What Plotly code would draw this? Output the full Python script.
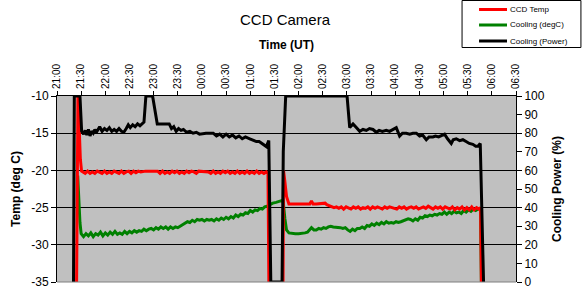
import plotly.graph_objects as go

# ---- data (minutes after 21:00 UT) ----
tick_vals = [0, 30, 60, 90, 120, 150, 180, 210, 240, 270, 300, 330, 360, 390, 420, 450, 480, 510, 540, 570]
tick_text = ["21:00", "21:30", "22:00", "22:30", "23:00", "23:30", "00:00", "00:30", "01:00", "01:30",
             "02:00", "02:30", "03:00", "03:30", "04:00", "04:30", "05:00", "05:30", "06:00", "06:30"]

temp_ticks = [-35, -30, -25, -20, -15, -10]
temp_ticktext = ["-35", "-30", "-25", "-20", "-15", "-10"]
power_ticks = [0, 10, 20, 30, 40, 50, 60, 70, 80, 90, 100]

series_names = ["CCD Temp", "Cooling (degC)", "Cooling (Power)"]
series_colors = ["#FF0000", "#008000", "#000000"]

ccd_t = [24, 26, 27.5, 29, 30.5,
         32, 35, 38, 41, 44, 47, 50, 53, 56, 59, 62, 65, 68, 71, 74, 77, 80, 83, 86, 89, 92, 95, 98,
         101, 104, 107, 110, 113, 116, 119, 122, 125, 128, 131, 134, 137, 140, 143, 146, 149, 152,
         155, 158, 161, 164, 167, 170, 173, 176, 179, 182, 185, 188, 191, 194, 197, 200, 203, 206,
         209, 212, 215, 218, 221, 224, 227, 230, 233, 236, 239, 242, 245, 248, 251, 254, 257, 260, 262,
         263.5, 280.5, 281.3, 283, 285, 288, 292, 296, 300, 304, 308, 312, 314, 316, 318, 322, 326,
         330, 333, 335, 337, 341, 344,
         347, 350, 353, 356, 359, 362, 365, 368, 371, 374, 377, 380, 383, 386, 389, 392, 395, 398,
         401, 404, 407, 410, 413, 416, 419, 422, 425, 428, 431, 434, 437, 440, 443, 446, 449, 452,
         455, 458, 461, 464, 467, 470, 473, 476, 479, 482, 485, 488, 491, 494, 497, 500, 503, 506,
         509, 512, 515, 518, 521, 524, 526, 527.5]
ccd_v = [-40, -10, -14, -18.5, -20.1,
         -20.2, -20.4, -20.1, -20.4, -20.2, -20.4, -20.1, -20.3, -20.4, -20.1, -20.4, -20.2, -20.4,
         -20.1, -20.3, -20.4, -20.1, -20.4, -20.2, -20.1, -20.4, -20.1, -20.3,
         -20.1, -20.2, -20.1, -20.1, -20.1, -20.1, -20.1, -20.2, -20.1, -20.4, -20.1, -20.4, -20.2,
         -20.4, -20.1, -20.3, -20.1, -20.4,
         -20.2, -20.4, -20.1, -20.3, -20.1, -20.2, -20.4, -20.1, -20.1, -20.1, -20.1, -20.2, -20.4,
         -20.1, -20.4, -20.2, -20.4, -20.1,
         -20.3, -20.1, -20.4, -20.2, -20.4, -20.1, -20.4, -20.2, -20.4, -20.1, -20.4, -20.2, -20.4,
         -20.1, -20.4, -20.2, -20.4, -20.2, -20.4,
         -40, -40, -20.0, -21.5, -23.5, -24.5, -24.5, -24.5, -24.5, -24.5, -24.5, -24.5, -24.5,
         -24.1, -24.5, -24.5, -24.5,
         -24.5, -24.4, -24.6, -24.7, -24.8, -25.0,
         -24.9, -25.1, -24.9, -25.2, -24.9, -25.0, -25.2, -24.9, -25.1, -24.9, -25.2, -25.0, -25.1,
         -24.9, -25.2, -24.9, -25.1, -24.9,
         -25.0, -25.2, -24.9, -25.1, -24.9, -25.0, -25.0, -25.2, -24.9, -25.1, -24.9, -25.2, -25.0,
         -24.9, -25.1, -24.9, -25.2, -25.0,
         -24.9, -25.1, -24.8, -25.0, -25.2, -24.9, -25.1, -24.9, -25.2, -24.9, -25.1, -25.2, -24.9,
         -25.3, -25.0, -25.2, -24.9, -25.3,
         -25.0, -25.3, -24.9, -25.3, -25.0, -25.2, -25.0, -40]

cool_t = [25.7, 27, 28.5, 30, 33, 36, 39, 42, 45, 48, 51, 54, 57, 60, 63, 66, 69, 72, 75, 78, 81,
          84, 87, 90, 93, 96, 99, 102, 105, 108, 111, 114, 117, 120, 123, 126, 129, 132, 135, 138,
          141, 144, 147, 150, 153, 156, 159, 162, 165, 168, 171, 174, 177, 180, 183, 186, 189, 192,
          195, 198, 201, 204, 207, 210, 213, 216, 219, 222, 225, 228, 231, 234, 237, 240, 243, 246,
          249, 252, 255, 258, 261, 264, 268, 272, 276, 280.7, 283, 285, 288, 292, 296, 300, 304, 308,
          311, 314, 316, 319, 322, 325, 328, 331, 334, 337, 340, 343, 346, 349, 352, 355, 358, 361,
          364, 367, 370, 373, 376, 379, 382, 385, 388, 391, 394, 397, 400, 403, 406, 409, 412, 415,
          418, 421, 424, 427, 430, 433, 436, 439, 442, 445, 448, 451, 454, 457, 460, 463, 466, 469,
          472, 475, 478, 481, 484, 487, 490, 493, 496, 499, 502, 505, 508, 511, 514, 517, 520, 523,
          526, 527.5]
cool_v = [-20.7, -24.0, -27.0, -28.5, -28.9, -28.5, -28.8, -28.4, -28.9, -28.5, -28.7, -28.3, -28.8,
          -28.4, -28.7, -28.3, -28.6, -28.2, -28.6, -28.4, -28.6,
          -28.2, -28.5, -28.2, -28.4, -28.1, -28.3, -28.1, -28.2, -27.9, -28.1, -27.9, -27.8, -28.0,
          -27.7, -27.9, -27.6, -27.8, -27.6, -27.9,
          -27.6, -27.8, -27.6, -27.7, -27.5, -27.3, -27.1, -26.9, -27.0, -26.7, -26.9, -26.6, -26.7,
          -26.6, -26.8, -26.6, -26.7, -26.6,
          -26.8, -26.5, -26.7, -26.4, -26.6, -26.3, -26.5, -26.2, -26.4, -26.0, -26.2, -25.9, -26.0,
          -25.7, -25.8, -25.4, -25.6, -25.3,
          -25.4, -25.1, -25.2, -24.9, -24.8, -24.6, -24.4, -24.3, -24.2, -24.0, -26.5, -28.0, -28.4,
          -28.5, -28.5, -28.5, -28.5, -28.4,
          -28.3, -27.9, -27.7, -28.0, -28.0, -27.8, -27.9, -27.7, -27.8, -27.6, -27.5, -27.6, -27.6,
          -27.7, -27.7, -27.8, -27.7, -28.0,
          -28.2, -27.9, -28.1, -27.8, -27.8, -27.6, -27.8, -27.4, -27.5, -27.2, -27.4, -27.1, -27.3,
          -27.0, -27.2, -26.9, -27.1, -27.0,
          -27.1, -26.9, -27.0, -26.9, -26.8, -26.7, -26.5, -26.6, -26.8, -26.5, -26.7, -26.3, -26.4,
          -26.1, -26.2, -26.0, -26.1, -25.9,
          -26.0, -25.8, -25.9, -25.6, -25.9, -25.6, -25.8, -25.5, -25.7, -25.6, -25.8, -25.4, -25.6,
          -25.3, -25.5, -25.2, -25.4, -25.2,
          -25.2, -40]

power_t = [20.5, 21.5, 28.5, 30.6, 33, 35, 37, 39, 41, 43, 45, 47, 49, 51, 53, 56, 59, 62, 65, 68,
           71, 74, 77, 80, 83, 86, 88.5, 91, 94, 97, 100, 103, 105, 108, 110.4, 118.7, 124.5, 128,
           132, 136, 139.4, 142.2, 145, 148, 151, 154, 157, 161, 165, 169, 173, 177, 181.5, 185,
           189, 194, 198, 202, 206, 210, 214, 218, 222, 226, 230, 234, 239.4, 243, 247.7, 251, 256,
           260, 263, 265.5, 279.5, 281, 284, 360.2, 363.5, 367.6, 371.7, 375.9, 380, 384.2, 388,
           392.4, 396.5, 400, 404, 408.9, 413, 417.2, 421.3, 425.5, 429, 433.7, 438, 442, 446.2,
           450.3, 454, 458.6, 462, 466.8, 470, 474, 478, 481.3, 485, 489.6, 492, 495.8, 500, 504,
           508, 512, 516.4, 520, 522.7, 525.6, 529.7]
power_v = [0, 100, 100, 81, 79.5, 81.5, 79, 82, 78.5, 81, 80, 82, 80.5, 82.5, 83.5, 81, 82.5, 81.5,
           83, 81,
           82, 81, 82.5, 81, 80.5, 82.5, 84.5, 83, 84.5, 83.5, 85, 84, 85, 86, 100, 100, 85, 85,
           85, 85, 85, 82.5, 83.5, 81, 82.5, 81.5, 82, 80.5, 81, 80, 80.5, 79.5, 80, 80,
           80, 80, 78.5, 79.5, 78, 79.5, 78, 79, 77.5, 78.5, 77, 78, 77, 76.5, 75.5, 75.5, 74,
           72.8, 76, 0, 0, 70, 100, 100, 83, 85, 83, 81, 82, 81.5, 82.5,
           82, 80.5, 81.5, 81, 81.5, 81, 82, 83, 78.5, 80, 80, 79.5, 80, 80,
           78.5, 79, 76.5, 78, 78, 78.5, 78, 79, 79.5, 77, 74.5, 76.5, 77, 76, 76.5,
           75.5, 74.5, 74, 73, 73, 74.5, 0]

FONT = "Liberation Sans, Arial, sans-serif"
W, H = 587, 304
PL, PR, PT, PB = 57, 516.5, 96, 282  # plot area in pixels


def px(xp):
    return (xp - PL) / (PR - PL)


def py(yp):
    return (PB - yp) / (PB - PT)


fig = go.Figure()
fig.add_trace(go.Scatter(x=cool_t, y=cool_v, mode="lines", name=series_names[1],
                         line=dict(color=series_colors[1], width=3)))
fig.add_trace(go.Scatter(x=ccd_t, y=ccd_v, mode="lines", name=series_names[0],
                         line=dict(color=series_colors[0], width=3)))
fig.add_trace(go.Scatter(x=power_t, y=power_v, mode="lines", name=series_names[2],
                         line=dict(color=series_colors[2], width=3), yaxis="y2"))

# legend box (drawn like the original chart's legend)
shapes = [dict(type="line", xref="paper", yref="paper", x0=0, x1=1, y0=0, y1=0,
               line=dict(color="#808080", width=1)),
          dict(type="rect", xref="paper", yref="paper", x0=px(462.5), x1=px(581.5),
               y0=py(47.5), y1=py(0.5), line=dict(color="black", width=1),
               fillcolor="white")]
annotations = []
legend_y = [9.5, 25, 41]
for name, color, ly in zip(series_names, series_colors, legend_y):
    shapes.append(dict(type="line", xref="paper", yref="paper", x0=px(479.5), x1=px(507.5),
                       y0=py(ly), y1=py(ly), line=dict(color=color, width=3)))
    annotations.append(dict(text=name, xref="paper", yref="paper", x=px(508.5), y=py(ly),
                            xanchor="left", yanchor="middle", showarrow=False,
                            font=dict(size=8, family=FONT, color="black")))

fig.update_layout(
    width=W, height=H,
    margin=dict(l=PL, r=W - PR, t=PT, b=H - PB, autoexpand=False),
    paper_bgcolor="white",
    plot_bgcolor="#C0C0C0",
    font=dict(family=FONT, color="black", size=11),
    showlegend=False,
    title=dict(text="CCD Camera", font=dict(size=15, family=FONT),
               x=285 / W, xanchor="center", xref="container",
               y=1 - 20 / H, yanchor="middle", yref="container"),
    xaxis=dict(range=[0, 570], side="top", tickvals=tick_vals, ticktext=tick_text,
               tickangle=-90, tickfont=dict(size=10), ticks="outside", ticklen=4,
               tickcolor="black", showline=True, linecolor="black", linewidth=1,
               showgrid=False, zeroline=False, automargin=False,
               title=dict(text="<b>Time (UT)</b>", font=dict(size=12), standoff=11)),
    yaxis=dict(range=[-35, -10], tickvals=temp_ticks, ticktext=temp_ticktext,
               ticks="outside", ticklen=5, tickcolor="black", showline=True,
               linecolor="black", linewidth=1, showgrid=True, gridcolor="black",
               gridwidth=1, zeroline=False, tickfont=dict(size=12), automargin=False,
               title=dict(text="<b>Temp (deg C)</b>", font=dict(size=12), standoff=8)),
    yaxis2=dict(range=[0, 100], tickvals=power_ticks, overlaying="y", side="right",
                ticks="outside", ticklen=5, tickcolor="black", showline=True,
                linecolor="black", linewidth=1, showgrid=False, zeroline=False,
                tickfont=dict(size=12), automargin=False,
                title=dict(text="<b>Cooling Power (%)</b>", font=dict(size=12), standoff=8)),
    shapes=shapes,
    annotations=annotations,
)

fig.write_html("out.html")
